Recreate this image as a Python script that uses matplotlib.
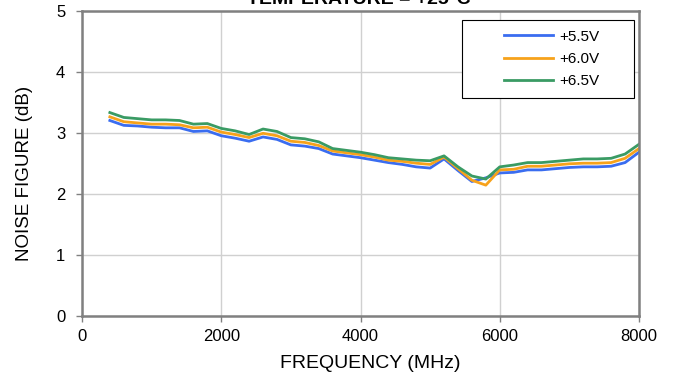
import matplotlib
matplotlib.use("Agg")
import matplotlib.pyplot as plt
from matplotlib.patches import Rectangle

plt.rcParams["font.family"] = ["Liberation Sans", "DejaVu Sans"]

# frequency points (MHz)
freq = [400, 600, 800, 1000, 1200, 1400, 1600, 1800, 2000, 2200,
        2400, 2600, 2800, 3000, 3200, 3400, 3600, 3800, 4000, 4200,
        4400, 4600, 4800, 5000, 5200, 5400, 5600, 5800, 6000, 6200,
        6400, 6600, 6800, 7000, 7200, 7400, 7600, 7800, 8000]

nf_55 = [3.21, 3.13, 3.12, 3.10, 3.09, 3.09, 3.03, 3.04, 2.96, 2.92,
         2.87, 2.94, 2.90, 2.81, 2.79, 2.75, 2.66, 2.63, 2.60, 2.56,
         2.52, 2.49, 2.45, 2.43, 2.58, 2.39, 2.21, 2.27, 2.35, 2.36,
         2.40, 2.40, 2.42, 2.44, 2.45, 2.45, 2.46, 2.52, 2.69]

nf_60 = [3.27, 3.19, 3.17, 3.15, 3.15, 3.14, 3.09, 3.10, 3.02, 2.98,
         2.93, 3.00, 2.96, 2.87, 2.85, 2.80, 2.71, 2.68, 2.65, 2.61,
         2.56, 2.54, 2.51, 2.49, 2.61, 2.42, 2.23, 2.15, 2.40, 2.41,
         2.46, 2.46, 2.48, 2.50, 2.51, 2.51, 2.52, 2.59, 2.75]

nf_65 = [3.34, 3.26, 3.24, 3.22, 3.22, 3.21, 3.15, 3.16, 3.08, 3.04,
         2.98, 3.07, 3.03, 2.93, 2.91, 2.86, 2.75, 2.72, 2.69, 2.65,
         2.60, 2.58, 2.56, 2.55, 2.63, 2.45, 2.30, 2.25, 2.45, 2.48,
         2.52, 2.52, 2.54, 2.56, 2.58, 2.58, 2.59, 2.66, 2.82]

series = [("+5.5V", nf_55, "#3a6df0"),
          ("+6.0V", nf_60, "#f7a21b"),
          ("+6.5V", nf_65, "#3a9b64")]

W, H = 674, 381
fig = plt.figure(figsize=(W / 100, H / 100), dpi=100)
ax = fig.add_axes([82 / W, 1 - 316.3 / H, 557 / W, 305 / H])

for label, vals, color in series:
    ax.plot(freq, vals, color=color, lw=2, label=label)

ax.set_xlim(0, 8000)
ax.set_ylim(0, 5)
ax.set_xticks([0, 2000, 4000, 6000, 8000])
ax.set_yticks([0, 1, 2, 3, 4, 5])
ax.grid(True, color="#d0d0d0", lw=1)
ax.set_axisbelow(True)
for sp in ax.spines.values():
    sp.set_color("#808080")
    sp.set_linewidth(1.8)
ax.tick_params(axis="both", labelsize=12, color="#808080", length=4, width=1)
ax.tick_params(axis="x", pad=5)
ax.tick_params(axis="y", pad=8)

fig.text(370.7 / W, 1 - 364 / H, "FREQUENCY (MHz)", ha="center", va="center",
         fontsize=14)
fig.text(25 / W, 1 - 173 / H, "NOISE FIGURE (dB)", ha="center", va="center",
         rotation=90, fontsize=13.5)
fig.text(359 / W, 1 - 3.5 / H, "TEMPERATURE = +25°C", ha="center", va="baseline",
         fontsize=14, fontweight="bold")

# Excel-style legend box with blank space on its left
ax.add_patch(Rectangle((0.682, 0.716), 0.309, 0.255, transform=ax.transAxes,
                       fill=True, facecolor="white", edgecolor="black", lw=0.8,
                       zorder=5))
leg = ax.legend(loc="upper left", bbox_to_anchor=(0.75, 0.955), frameon=False,
                fontsize=11, handlelength=3.2, handletextpad=0.4,
                labelspacing=0.55, borderaxespad=0, borderpad=0.3)
leg.set_zorder(6)

fig.savefig("out.png", dpi=100)
